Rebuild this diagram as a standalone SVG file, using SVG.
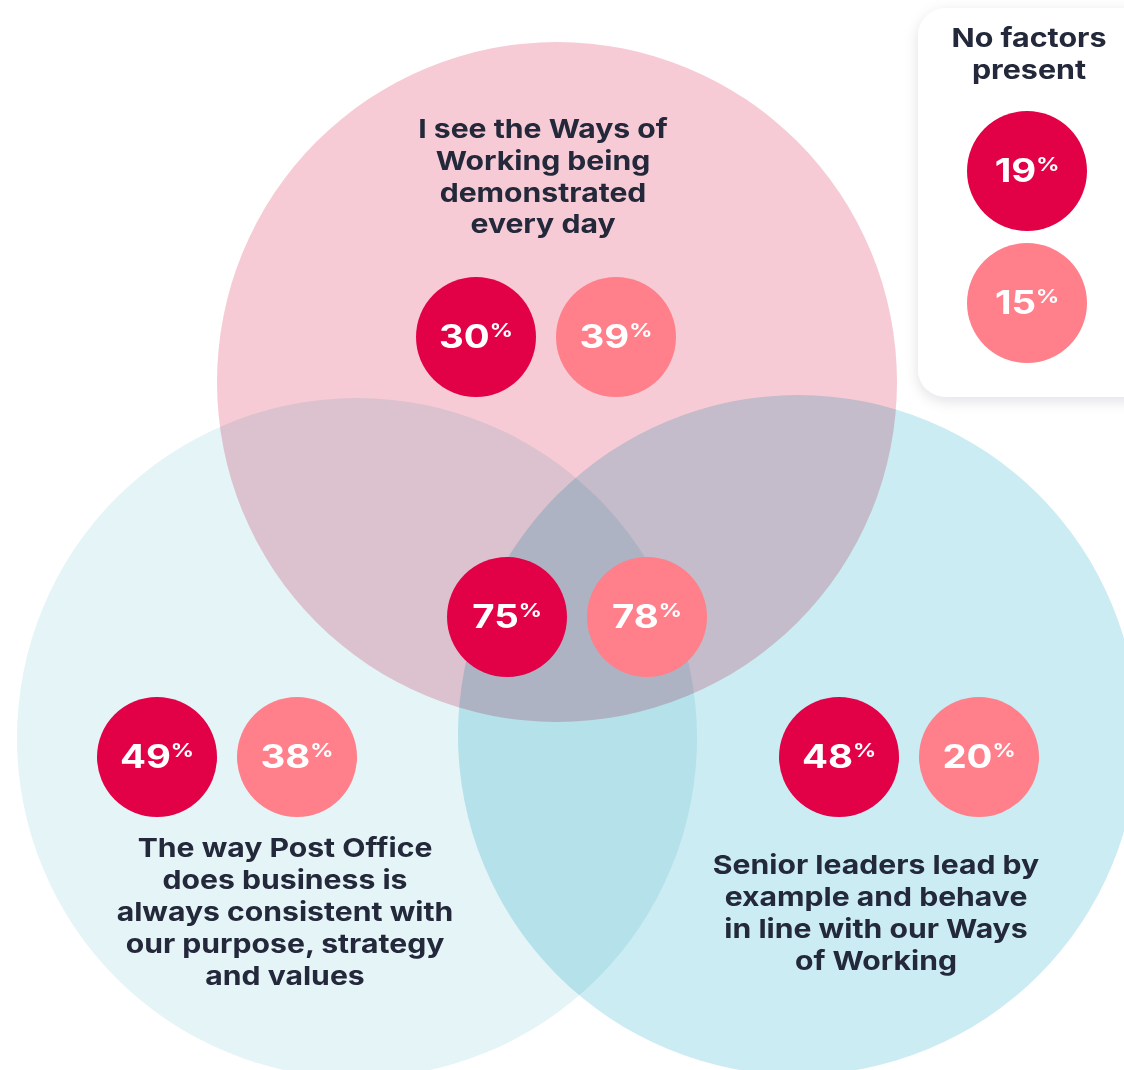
<svg xmlns="http://www.w3.org/2000/svg" width="1124" height="1070" viewBox="0 0 1124 1070">
  <defs>
    <filter id="cardShadow" x="-20%" y="-10%" width="140%" height="130%">
      <feDropShadow dx="0" dy="4" stdDeviation="7" flood-color="#1c2233" flood-opacity="0.12"/>
    </filter>
  </defs>
  <style>
    .set { mix-blend-mode: multiply; }
    .ways { fill: #f6cbd5; }
    .business { fill: #e4f4f7; }
    .leaders { fill: #cbecf2; }
    .label { font-family: Inter, "Liberation Sans", sans-serif; font-weight: 700; font-size: 26px; fill: #23283a; text-anchor: middle; }
    .dark { fill: #e20047; }
    .light { fill: #ff7f8a; }
    .pct { font-family: Inter, "Liberation Sans", sans-serif; font-weight: 700; font-size: 32px; fill: #ffffff; text-anchor: middle; }
    .sup { font-size: 19px; }
  </style>

  <rect width="1124" height="1070" fill="#ffffff"/>

  <!-- Venn sets, blended so the overlaps darken -->
  <g id="sets">
    <circle class="set business" cx="357" cy="738" r="340"/>
    <circle class="set leaders" cx="798" cy="735" r="340"/>
    <circle class="set ways" cx="557" cy="382" r="340"/>
  </g>

  <!-- Set labels (wide lettering) -->
  <g id="ways-label" transform="translate(543 0) scale(1.16 1)">
    <text class="label" x="0" y="138">I see the Ways of</text>
    <text class="label" x="0" y="170">Working being</text>
    <text class="label" x="0" y="202">demonstrated</text>
    <text class="label" x="0" y="233">every day</text>
  </g>
  <g id="business-label" transform="translate(285 0) scale(1.16 1)">
    <text class="label" x="0" y="857">The way Post Office</text>
    <text class="label" x="0" y="889">does business is</text>
    <text class="label" x="0" y="921">always consistent with</text>
    <text class="label" x="0" y="953">our purpose, strategy</text>
    <text class="label" x="0" y="985">and values</text>
  </g>
  <g id="leaders-label" transform="translate(876 0) scale(1.16 1)">
    <text class="label" x="0" y="874">Senior leaders lead by</text>
    <text class="label" x="0" y="906">example and behave</text>
    <text class="label" x="0" y="938">in line with our Ways</text>
    <text class="label" x="0" y="970">of Working</text>
  </g>

  <!-- "No factors present" card -->
  <g id="no-factors">
    <rect x="918" y="8" width="240" height="389" rx="28" fill="#ffffff" filter="url(#cardShadow)"/>
    <g transform="translate(1029 0) scale(1.17 1)">
      <text class="label" x="0" y="47">No factors</text>
      <text class="label" x="0" y="79">present</text>
    </g>
  </g>

  <!-- Percentage bubbles -->
  <g id="stat-nofactors-dark">
    <circle class="dark" cx="1027" cy="171" r="60"/>
    <text class="pct" transform="translate(1027 182) scale(1.2 1)">19<tspan class="sup" dy="-11">%</tspan></text>
  </g>
  <g id="stat-nofactors-light">
    <circle class="light" cx="1027" cy="303" r="60"/>
    <text class="pct" transform="translate(1027 314) scale(1.2 1)">15<tspan class="sup" dy="-11">%</tspan></text>
  </g>

  <g id="stat-ways-dark">
    <circle class="dark" cx="476" cy="337" r="60"/>
    <text class="pct" transform="translate(476 348) scale(1.2 1)">30<tspan class="sup" dy="-11">%</tspan></text>
  </g>
  <g id="stat-ways-light">
    <circle class="light" cx="616" cy="337" r="60"/>
    <text class="pct" transform="translate(616 348) scale(1.2 1)">39<tspan class="sup" dy="-11">%</tspan></text>
  </g>

  <g id="stat-all-dark">
    <circle class="dark" cx="507" cy="617" r="60"/>
    <text class="pct" transform="translate(507 628) scale(1.2 1)">75<tspan class="sup" dy="-11">%</tspan></text>
  </g>
  <g id="stat-all-light">
    <circle class="light" cx="647" cy="617" r="60"/>
    <text class="pct" transform="translate(647 628) scale(1.2 1)">78<tspan class="sup" dy="-11">%</tspan></text>
  </g>

  <g id="stat-business-dark">
    <circle class="dark" cx="157" cy="757" r="60"/>
    <text class="pct" transform="translate(157 768) scale(1.2 1)">49<tspan class="sup" dy="-11">%</tspan></text>
  </g>
  <g id="stat-business-light">
    <circle class="light" cx="297" cy="757" r="60"/>
    <text class="pct" transform="translate(297 768) scale(1.2 1)">38<tspan class="sup" dy="-11">%</tspan></text>
  </g>

  <g id="stat-leaders-dark">
    <circle class="dark" cx="839" cy="757" r="60"/>
    <text class="pct" transform="translate(839 768) scale(1.2 1)">48<tspan class="sup" dy="-11">%</tspan></text>
  </g>
  <g id="stat-leaders-light">
    <circle class="light" cx="979" cy="757" r="60"/>
    <text class="pct" transform="translate(979 768) scale(1.2 1)">20<tspan class="sup" dy="-11">%</tspan></text>
  </g>
</svg>
